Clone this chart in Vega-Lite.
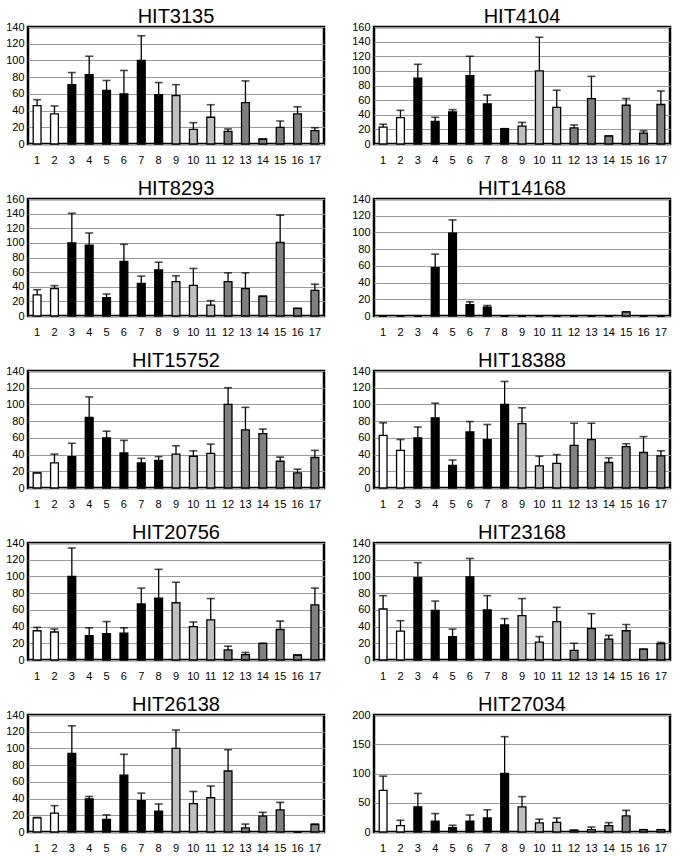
{
"$schema": "https://vega.github.io/schema/vega-lite/v6.json",
"background": "white",
"padding": {"top": 5, "left": 4, "right": 5, "bottom": 5},
"columns": 2,
"spacing": {"row": 10, "column": 24},
"data": {"values": [
{"h":"HIT3135","p":1,"v":46,"u":53,"g":"A"},{"h":"HIT3135","p":2,"v":36,"u":45.5,"g":"A"},{"h":"HIT3135","p":3,"v":71,"u":85.5,"g":"B"},{"h":"HIT3135","p":4,"v":83,"u":105,"g":"B"},{"h":"HIT3135","p":5,"v":64,"u":76,"g":"B"},{"h":"HIT3135","p":6,"v":60,"u":88,"g":"B"},{"h":"HIT3135","p":7,"v":100,"u":129.5,"g":"B"},{"h":"HIT3135","p":8,"v":59,"u":73.5,"g":"B"},{"h":"HIT3135","p":9,"v":58,"u":71,"g":"C"},{"h":"HIT3135","p":10,"v":17.5,"u":25.5,"g":"C"},{"h":"HIT3135","p":11,"v":32,"u":47,"g":"C"},{"h":"HIT3135","p":12,"v":15,"u":18,"g":"D"},{"h":"HIT3135","p":13,"v":49.5,"u":75.5,"g":"D"},{"h":"HIT3135","p":14,"v":6,"u":6,"g":"D"},{"h":"HIT3135","p":15,"v":20,"u":27.5,"g":"D"},{"h":"HIT3135","p":16,"v":36,"u":44.5,"g":"D"},{"h":"HIT3135","p":17,"v":16,"u":19.5,"g":"D"},
{"h":"HIT4104","p":1,"v":23,"u":27,"g":"A"},{"h":"HIT4104","p":2,"v":36,"u":46,"g":"A"},{"h":"HIT4104","p":3,"v":90,"u":109,"g":"B"},{"h":"HIT4104","p":4,"v":31,"u":36.5,"g":"B"},{"h":"HIT4104","p":5,"v":44,"u":47,"g":"B"},{"h":"HIT4104","p":6,"v":93.5,"u":120,"g":"B"},{"h":"HIT4104","p":7,"v":55,"u":67,"g":"B"},{"h":"HIT4104","p":8,"v":21,"u":21,"g":"B"},{"h":"HIT4104","p":9,"v":24.5,"u":29.5,"g":"C"},{"h":"HIT4104","p":10,"v":100,"u":146,"g":"C"},{"h":"HIT4104","p":11,"v":50,"u":73.5,"g":"C"},{"h":"HIT4104","p":12,"v":22,"u":26,"g":"D"},{"h":"HIT4104","p":13,"v":62,"u":92.5,"g":"D"},{"h":"HIT4104","p":14,"v":11,"u":11,"g":"D"},{"h":"HIT4104","p":15,"v":53,"u":62,"g":"D"},{"h":"HIT4104","p":16,"v":15,"u":18,"g":"D"},{"h":"HIT4104","p":17,"v":54,"u":72.5,"g":"D"},
{"h":"HIT8293","p":1,"v":29,"u":36,"g":"A"},{"h":"HIT8293","p":2,"v":37.5,"u":41.5,"g":"A"},{"h":"HIT8293","p":3,"v":100,"u":140.5,"g":"B"},{"h":"HIT8293","p":4,"v":97,"u":113.5,"g":"B"},{"h":"HIT8293","p":5,"v":25,"u":30,"g":"B"},{"h":"HIT8293","p":6,"v":74.5,"u":98,"g":"B"},{"h":"HIT8293","p":7,"v":44.5,"u":54.5,"g":"B"},{"h":"HIT8293","p":8,"v":63,"u":73.5,"g":"B"},{"h":"HIT8293","p":9,"v":47,"u":55,"g":"C"},{"h":"HIT8293","p":10,"v":42,"u":65,"g":"C"},{"h":"HIT8293","p":11,"v":15,"u":21,"g":"C"},{"h":"HIT8293","p":12,"v":47,"u":59,"g":"D"},{"h":"HIT8293","p":13,"v":37.5,"u":59,"g":"D"},{"h":"HIT8293","p":14,"v":27,"u":27,"g":"D"},{"h":"HIT8293","p":15,"v":100.5,"u":138,"g":"D"},{"h":"HIT8293","p":16,"v":10.5,"u":10.5,"g":"D"},{"h":"HIT8293","p":17,"v":35,"u":43.5,"g":"D"},
{"h":"HIT14168","p":1,"v":0,"u":0,"g":"A"},{"h":"HIT14168","p":2,"v":0,"u":0,"g":"A"},{"h":"HIT14168","p":3,"v":0,"u":0,"g":"B"},{"h":"HIT14168","p":4,"v":58,"u":74,"g":"B"},{"h":"HIT14168","p":5,"v":99,"u":115,"g":"B"},{"h":"HIT14168","p":6,"v":13.5,"u":17,"g":"B"},{"h":"HIT14168","p":7,"v":10.5,"u":12.5,"g":"B"},{"h":"HIT14168","p":8,"v":0,"u":0,"g":"B"},{"h":"HIT14168","p":9,"v":0,"u":0,"g":"C"},{"h":"HIT14168","p":10,"v":0,"u":0,"g":"C"},{"h":"HIT14168","p":11,"v":0,"u":0,"g":"C"},{"h":"HIT14168","p":12,"v":0,"u":0,"g":"D"},{"h":"HIT14168","p":13,"v":0,"u":0,"g":"D"},{"h":"HIT14168","p":14,"v":0,"u":0,"g":"D"},{"h":"HIT14168","p":15,"v":5,"u":5,"g":"D"},{"h":"HIT14168","p":16,"v":0,"u":0,"g":"D"},{"h":"HIT14168","p":17,"v":0,"u":0,"g":"D"},
{"h":"HIT15752","p":1,"v":18,"u":18,"g":"A"},{"h":"HIT15752","p":2,"v":30,"u":40.5,"g":"A"},{"h":"HIT15752","p":3,"v":37.5,"u":53.5,"g":"B"},{"h":"HIT15752","p":4,"v":84.5,"u":109,"g":"B"},{"h":"HIT15752","p":5,"v":60,"u":68,"g":"B"},{"h":"HIT15752","p":6,"v":42,"u":57,"g":"B"},{"h":"HIT15752","p":7,"v":30,"u":35.5,"g":"B"},{"h":"HIT15752","p":8,"v":33,"u":37.5,"g":"B"},{"h":"HIT15752","p":9,"v":40.5,"u":50.5,"g":"C"},{"h":"HIT15752","p":10,"v":38,"u":44.5,"g":"C"},{"h":"HIT15752","p":11,"v":41.5,"u":52.5,"g":"C"},{"h":"HIT15752","p":12,"v":100,"u":120,"g":"D"},{"h":"HIT15752","p":13,"v":69.5,"u":96.5,"g":"D"},{"h":"HIT15752","p":14,"v":65,"u":70.5,"g":"D"},{"h":"HIT15752","p":15,"v":32,"u":37,"g":"D"},{"h":"HIT15752","p":16,"v":18,"u":22.5,"g":"D"},{"h":"HIT15752","p":17,"v":36.5,"u":45,"g":"D"},
{"h":"HIT18388","p":1,"v":63,"u":78,"g":"A"},{"h":"HIT18388","p":2,"v":45,"u":58,"g":"A"},{"h":"HIT18388","p":3,"v":60,"u":73,"g":"B"},{"h":"HIT18388","p":4,"v":84,"u":101.5,"g":"B"},{"h":"HIT18388","p":5,"v":27,"u":33.5,"g":"B"},{"h":"HIT18388","p":6,"v":67,"u":79.5,"g":"B"},{"h":"HIT18388","p":7,"v":58,"u":76,"g":"B"},{"h":"HIT18388","p":8,"v":100,"u":127.5,"g":"B"},{"h":"HIT18388","p":9,"v":77,"u":96,"g":"C"},{"h":"HIT18388","p":10,"v":26.5,"u":38,"g":"C"},{"h":"HIT18388","p":11,"v":29.5,"u":40,"g":"C"},{"h":"HIT18388","p":12,"v":51,"u":77.5,"g":"D"},{"h":"HIT18388","p":13,"v":58,"u":77.5,"g":"D"},{"h":"HIT18388","p":14,"v":30.5,"u":36,"g":"D"},{"h":"HIT18388","p":15,"v":49.5,"u":53,"g":"D"},{"h":"HIT18388","p":16,"v":42.5,"u":61.5,"g":"D"},{"h":"HIT18388","p":17,"v":38.5,"u":44.5,"g":"D"},
{"h":"HIT20756","p":1,"v":35,"u":39,"g":"A"},{"h":"HIT20756","p":2,"v":33.5,"u":37,"g":"A"},{"h":"HIT20756","p":3,"v":100,"u":134,"g":"B"},{"h":"HIT20756","p":4,"v":29,"u":38.5,"g":"B"},{"h":"HIT20756","p":5,"v":31.5,"u":46,"g":"B"},{"h":"HIT20756","p":6,"v":32,"u":38.5,"g":"B"},{"h":"HIT20756","p":7,"v":67,"u":86,"g":"B"},{"h":"HIT20756","p":8,"v":74,"u":108.5,"g":"B"},{"h":"HIT20756","p":9,"v":68.5,"u":93,"g":"C"},{"h":"HIT20756","p":10,"v":40,"u":45.5,"g":"C"},{"h":"HIT20756","p":11,"v":48,"u":73.5,"g":"C"},{"h":"HIT20756","p":12,"v":12,"u":16.5,"g":"D"},{"h":"HIT20756","p":13,"v":6.5,"u":9,"g":"D"},{"h":"HIT20756","p":14,"v":20,"u":20,"g":"D"},{"h":"HIT20756","p":15,"v":36.5,"u":46.5,"g":"D"},{"h":"HIT20756","p":16,"v":6,"u":6,"g":"D"},{"h":"HIT20756","p":17,"v":66,"u":86,"g":"D"},
{"h":"HIT23168","p":1,"v":61,"u":77,"g":"A"},{"h":"HIT23168","p":2,"v":34.5,"u":47,"g":"A"},{"h":"HIT23168","p":3,"v":98.5,"u":116.5,"g":"B"},{"h":"HIT23168","p":4,"v":59.5,"u":70.5,"g":"B"},{"h":"HIT23168","p":5,"v":28,"u":37,"g":"B"},{"h":"HIT23168","p":6,"v":99.5,"u":121.5,"g":"B"},{"h":"HIT23168","p":7,"v":60,"u":77,"g":"B"},{"h":"HIT23168","p":8,"v":42,"u":49.5,"g":"B"},{"h":"HIT23168","p":9,"v":53,"u":73.5,"g":"C"},{"h":"HIT23168","p":10,"v":21.5,"u":28,"g":"C"},{"h":"HIT23168","p":11,"v":46,"u":63,"g":"C"},{"h":"HIT23168","p":12,"v":11.5,"u":20,"g":"D"},{"h":"HIT23168","p":13,"v":37.5,"u":55.5,"g":"D"},{"h":"HIT23168","p":14,"v":25,"u":29.5,"g":"D"},{"h":"HIT23168","p":15,"v":35,"u":42.5,"g":"D"},{"h":"HIT23168","p":16,"v":13,"u":13,"g":"D"},{"h":"HIT23168","p":17,"v":19.5,"u":21,"g":"D"},
{"h":"HIT26138","p":1,"v":17,"u":17.5,"g":"A"},{"h":"HIT26138","p":2,"v":22.5,"u":31.5,"g":"A"},{"h":"HIT26138","p":3,"v":94,"u":127,"g":"B"},{"h":"HIT26138","p":4,"v":39.5,"u":42.5,"g":"B"},{"h":"HIT26138","p":5,"v":15,"u":20.5,"g":"B"},{"h":"HIT26138","p":6,"v":68,"u":93,"g":"B"},{"h":"HIT26138","p":7,"v":37.5,"u":46.5,"g":"B"},{"h":"HIT26138","p":8,"v":25,"u":33.5,"g":"B"},{"h":"HIT26138","p":9,"v":100,"u":122,"g":"C"},{"h":"HIT26138","p":10,"v":34,"u":48.5,"g":"C"},{"h":"HIT26138","p":11,"v":41,"u":55,"g":"C"},{"h":"HIT26138","p":12,"v":73,"u":98.5,"g":"D"},{"h":"HIT26138","p":13,"v":5,"u":9.5,"g":"D"},{"h":"HIT26138","p":14,"v":19,"u":23.5,"g":"D"},{"h":"HIT26138","p":15,"v":26.5,"u":35.5,"g":"D"},{"h":"HIT26138","p":16,"v":0,"u":0,"g":"D"},{"h":"HIT26138","p":17,"v":9,"u":9.5,"g":"D"},
{"h":"HIT27034","p":1,"v":71,"u":95.5,"g":"A"},{"h":"HIT27034","p":2,"v":11,"u":20,"g":"A"},{"h":"HIT27034","p":3,"v":43,"u":66,"g":"B"},{"h":"HIT27034","p":4,"v":18.5,"u":31.5,"g":"B"},{"h":"HIT27034","p":5,"v":7.5,"u":11.5,"g":"B"},{"h":"HIT27034","p":6,"v":18.5,"u":29,"g":"B"},{"h":"HIT27034","p":7,"v":24,"u":38,"g":"B"},{"h":"HIT27034","p":8,"v":100,"u":163,"g":"B"},{"h":"HIT27034","p":9,"v":43,"u":60.5,"g":"C"},{"h":"HIT27034","p":10,"v":15.5,"u":22,"g":"C"},{"h":"HIT27034","p":11,"v":16.5,"u":24,"g":"C"},{"h":"HIT27034","p":12,"v":3,"u":3,"g":"D"},{"h":"HIT27034","p":13,"v":4,"u":8.5,"g":"D"},{"h":"HIT27034","p":14,"v":11,"u":16,"g":"D"},{"h":"HIT27034","p":15,"v":27.5,"u":37,"g":"D"},{"h":"HIT27034","p":16,"v":4,"u":4,"g":"D"},{"h":"HIT27034","p":17,"v":4,"u":4,"g":"D"}
]},
"concat": [
{"title":"HIT3135","transform":[{"filter":"datum.h == 'HIT3135'"}],"width":296,"height":117,
 "encoding":{"x":{"field":"p","type":"ordinal","title":null}},
 "layer":[
  {"mark":{"type":"bar","stroke":"black","strokeWidth":1.3},"encoding":{"y":{"field":"v","type":"quantitative","title":null,"scale":{"domain":[0,140]},"axis":{"values":[0,20,40,60,80,100,120,140]}},"fill":{"field":"g","type":"nominal","legend":null,"scale":{"domain":["A","B","C","D"],"range":["#ffffff","#000000","#c0c0c0","#808080"]}}}},
  {"mark":{"type":"rule","strokeWidth":1.3,"color":"black"},"encoding":{"y":{"field":"v","type":"quantitative","title":null,"axis":{"values":[0,20,40,60,80,100,120,140]}},"y2":{"field":"u"}}},
  {"mark":{"type":"tick","thickness":1.6,"size":8,"color":"black"},"encoding":{"y":{"field":"u","type":"quantitative","title":null,"axis":{"values":[0,20,40,60,80,100,120,140]}}}}
 ]},
{"title":"HIT4104","transform":[{"filter":"datum.h == 'HIT4104'"}],"width":296,"height":117,
 "encoding":{"x":{"field":"p","type":"ordinal","title":null}},
 "layer":[
  {"mark":{"type":"bar","stroke":"black","strokeWidth":1.3},"encoding":{"y":{"field":"v","type":"quantitative","title":null,"scale":{"domain":[0,160]},"axis":{"values":[0,20,40,60,80,100,120,140,160]}},"fill":{"field":"g","type":"nominal","legend":null,"scale":{"domain":["A","B","C","D"],"range":["#ffffff","#000000","#c0c0c0","#808080"]}}}},
  {"mark":{"type":"rule","strokeWidth":1.3,"color":"black"},"encoding":{"y":{"field":"v","type":"quantitative","title":null,"axis":{"values":[0,20,40,60,80,100,120,140,160]}},"y2":{"field":"u"}}},
  {"mark":{"type":"tick","thickness":1.6,"size":8,"color":"black"},"encoding":{"y":{"field":"u","type":"quantitative","title":null,"axis":{"values":[0,20,40,60,80,100,120,140,160]}}}}
 ]},
{"title":"HIT8293","transform":[{"filter":"datum.h == 'HIT8293'"}],"width":296,"height":117,
 "encoding":{"x":{"field":"p","type":"ordinal","title":null}},
 "layer":[
  {"mark":{"type":"bar","stroke":"black","strokeWidth":1.3},"encoding":{"y":{"field":"v","type":"quantitative","title":null,"scale":{"domain":[0,160]},"axis":{"values":[0,20,40,60,80,100,120,140,160]}},"fill":{"field":"g","type":"nominal","legend":null,"scale":{"domain":["A","B","C","D"],"range":["#ffffff","#000000","#c0c0c0","#808080"]}}}},
  {"mark":{"type":"rule","strokeWidth":1.3,"color":"black"},"encoding":{"y":{"field":"v","type":"quantitative","title":null,"axis":{"values":[0,20,40,60,80,100,120,140,160]}},"y2":{"field":"u"}}},
  {"mark":{"type":"tick","thickness":1.6,"size":8,"color":"black"},"encoding":{"y":{"field":"u","type":"quantitative","title":null,"axis":{"values":[0,20,40,60,80,100,120,140,160]}}}}
 ]},
{"title":"HIT14168","transform":[{"filter":"datum.h == 'HIT14168'"}],"width":296,"height":117,
 "encoding":{"x":{"field":"p","type":"ordinal","title":null}},
 "layer":[
  {"mark":{"type":"bar","stroke":"black","strokeWidth":1.3},"encoding":{"y":{"field":"v","type":"quantitative","title":null,"scale":{"domain":[0,140]},"axis":{"values":[0,20,40,60,80,100,120,140]}},"fill":{"field":"g","type":"nominal","legend":null,"scale":{"domain":["A","B","C","D"],"range":["#ffffff","#000000","#c0c0c0","#808080"]}}}},
  {"mark":{"type":"rule","strokeWidth":1.3,"color":"black"},"encoding":{"y":{"field":"v","type":"quantitative","title":null,"axis":{"values":[0,20,40,60,80,100,120,140]}},"y2":{"field":"u"}}},
  {"mark":{"type":"tick","thickness":1.6,"size":8,"color":"black"},"encoding":{"y":{"field":"u","type":"quantitative","title":null,"axis":{"values":[0,20,40,60,80,100,120,140]}}}}
 ]},
{"title":"HIT15752","transform":[{"filter":"datum.h == 'HIT15752'"}],"width":296,"height":117,
 "encoding":{"x":{"field":"p","type":"ordinal","title":null}},
 "layer":[
  {"mark":{"type":"bar","stroke":"black","strokeWidth":1.3},"encoding":{"y":{"field":"v","type":"quantitative","title":null,"scale":{"domain":[0,140]},"axis":{"values":[0,20,40,60,80,100,120,140]}},"fill":{"field":"g","type":"nominal","legend":null,"scale":{"domain":["A","B","C","D"],"range":["#ffffff","#000000","#c0c0c0","#808080"]}}}},
  {"mark":{"type":"rule","strokeWidth":1.3,"color":"black"},"encoding":{"y":{"field":"v","type":"quantitative","title":null,"axis":{"values":[0,20,40,60,80,100,120,140]}},"y2":{"field":"u"}}},
  {"mark":{"type":"tick","thickness":1.6,"size":8,"color":"black"},"encoding":{"y":{"field":"u","type":"quantitative","title":null,"axis":{"values":[0,20,40,60,80,100,120,140]}}}}
 ]},
{"title":"HIT18388","transform":[{"filter":"datum.h == 'HIT18388'"}],"width":296,"height":117,
 "encoding":{"x":{"field":"p","type":"ordinal","title":null}},
 "layer":[
  {"mark":{"type":"bar","stroke":"black","strokeWidth":1.3},"encoding":{"y":{"field":"v","type":"quantitative","title":null,"scale":{"domain":[0,140]},"axis":{"values":[0,20,40,60,80,100,120,140]}},"fill":{"field":"g","type":"nominal","legend":null,"scale":{"domain":["A","B","C","D"],"range":["#ffffff","#000000","#c0c0c0","#808080"]}}}},
  {"mark":{"type":"rule","strokeWidth":1.3,"color":"black"},"encoding":{"y":{"field":"v","type":"quantitative","title":null,"axis":{"values":[0,20,40,60,80,100,120,140]}},"y2":{"field":"u"}}},
  {"mark":{"type":"tick","thickness":1.6,"size":8,"color":"black"},"encoding":{"y":{"field":"u","type":"quantitative","title":null,"axis":{"values":[0,20,40,60,80,100,120,140]}}}}
 ]},
{"title":"HIT20756","transform":[{"filter":"datum.h == 'HIT20756'"}],"width":296,"height":117,
 "encoding":{"x":{"field":"p","type":"ordinal","title":null}},
 "layer":[
  {"mark":{"type":"bar","stroke":"black","strokeWidth":1.3},"encoding":{"y":{"field":"v","type":"quantitative","title":null,"scale":{"domain":[0,140]},"axis":{"values":[0,20,40,60,80,100,120,140]}},"fill":{"field":"g","type":"nominal","legend":null,"scale":{"domain":["A","B","C","D"],"range":["#ffffff","#000000","#c0c0c0","#808080"]}}}},
  {"mark":{"type":"rule","strokeWidth":1.3,"color":"black"},"encoding":{"y":{"field":"v","type":"quantitative","title":null,"axis":{"values":[0,20,40,60,80,100,120,140]}},"y2":{"field":"u"}}},
  {"mark":{"type":"tick","thickness":1.6,"size":8,"color":"black"},"encoding":{"y":{"field":"u","type":"quantitative","title":null,"axis":{"values":[0,20,40,60,80,100,120,140]}}}}
 ]},
{"title":"HIT23168","transform":[{"filter":"datum.h == 'HIT23168'"}],"width":296,"height":117,
 "encoding":{"x":{"field":"p","type":"ordinal","title":null}},
 "layer":[
  {"mark":{"type":"bar","stroke":"black","strokeWidth":1.3},"encoding":{"y":{"field":"v","type":"quantitative","title":null,"scale":{"domain":[0,140]},"axis":{"values":[0,20,40,60,80,100,120,140]}},"fill":{"field":"g","type":"nominal","legend":null,"scale":{"domain":["A","B","C","D"],"range":["#ffffff","#000000","#c0c0c0","#808080"]}}}},
  {"mark":{"type":"rule","strokeWidth":1.3,"color":"black"},"encoding":{"y":{"field":"v","type":"quantitative","title":null,"axis":{"values":[0,20,40,60,80,100,120,140]}},"y2":{"field":"u"}}},
  {"mark":{"type":"tick","thickness":1.6,"size":8,"color":"black"},"encoding":{"y":{"field":"u","type":"quantitative","title":null,"axis":{"values":[0,20,40,60,80,100,120,140]}}}}
 ]},
{"title":"HIT26138","transform":[{"filter":"datum.h == 'HIT26138'"}],"width":296,"height":117,
 "encoding":{"x":{"field":"p","type":"ordinal","title":null}},
 "layer":[
  {"mark":{"type":"bar","stroke":"black","strokeWidth":1.3},"encoding":{"y":{"field":"v","type":"quantitative","title":null,"scale":{"domain":[0,140]},"axis":{"values":[0,20,40,60,80,100,120,140]}},"fill":{"field":"g","type":"nominal","legend":null,"scale":{"domain":["A","B","C","D"],"range":["#ffffff","#000000","#c0c0c0","#808080"]}}}},
  {"mark":{"type":"rule","strokeWidth":1.3,"color":"black"},"encoding":{"y":{"field":"v","type":"quantitative","title":null,"axis":{"values":[0,20,40,60,80,100,120,140]}},"y2":{"field":"u"}}},
  {"mark":{"type":"tick","thickness":1.6,"size":8,"color":"black"},"encoding":{"y":{"field":"u","type":"quantitative","title":null,"axis":{"values":[0,20,40,60,80,100,120,140]}}}}
 ]},
{"title":"HIT27034","transform":[{"filter":"datum.h == 'HIT27034'"}],"width":296,"height":117,
 "encoding":{"x":{"field":"p","type":"ordinal","title":null}},
 "layer":[
  {"mark":{"type":"bar","stroke":"black","strokeWidth":1.3},"encoding":{"y":{"field":"v","type":"quantitative","title":null,"scale":{"domain":[0,200]},"axis":{"values":[0,50,100,150,200]}},"fill":{"field":"g","type":"nominal","legend":null,"scale":{"domain":["A","B","C","D"],"range":["#ffffff","#000000","#c0c0c0","#808080"]}}}},
  {"mark":{"type":"rule","strokeWidth":1.3,"color":"black"},"encoding":{"y":{"field":"v","type":"quantitative","title":null,"axis":{"values":[0,50,100,150,200]}},"y2":{"field":"u"}}},
  {"mark":{"type":"tick","thickness":1.6,"size":8,"color":"black"},"encoding":{"y":{"field":"u","type":"quantitative","title":null,"axis":{"values":[0,50,100,150,200]}}}}
 ]}
],
"resolve": {"scale": {"fill": "independent"}},
"config": {
 "font": "Liberation Sans",
 "view": {"stroke": "black", "strokeWidth": 2.5},
 "scale": {"bandPaddingInner": 0.55, "bandPaddingOuter": 0.3},
 "title": {"fontSize": 20, "fontWeight": "normal", "font": "Liberation Sans", "color": "black", "offset": -6, "anchor": "middle"},
 "axis": {"labelFont": "Liberation Sans", "labelFontSize": 11, "labelColor": "black", "domain": false, "ticks": false, "tickSize": 0, "labelOverlap": false, "labelBound": false},
 "axisX": {"grid": false, "labelAngle": 0, "labelPadding": 10},
 "axisY": {"grid": true, "gridColor": "#9a9a9a", "gridWidth": 1, "labelPadding": 4}
}
}
